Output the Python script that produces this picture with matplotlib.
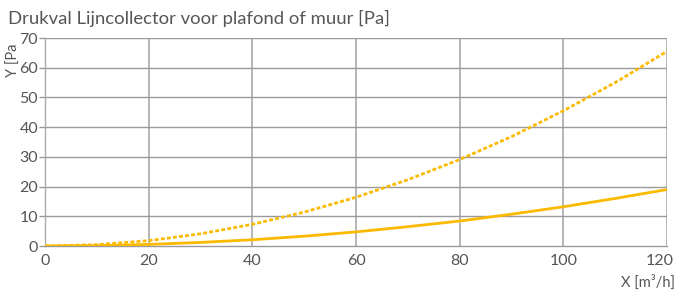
import matplotlib
matplotlib.use("Agg")
import matplotlib.pyplot as plt
from matplotlib.transforms import ScaledTranslation

x_vals = [0, 10, 20, 30, 40, 50, 60, 70, 80, 90, 100, 110, 120]
dashed_vals = [0, 0.45, 1.8, 4.1, 7.3, 11.4, 16.4, 22.3, 29.1, 36.8, 45.5, 55.0, 65.5]
solid_vals = [0, 0.13, 0.53, 1.2, 2.1, 3.3, 4.75, 6.5, 8.4, 10.7, 13.2, 16.0, 19.0]
x_ticks = [0, 20, 40, 60, 80, 100, 120]
y_ticks = [0, 10, 20, 30, 40, 50, 60, 70]

plt.rcParams['font.family'] = ['Lato', 'DejaVu Sans']
txt = '#555555'
col = '#FBBA00'

fig = plt.figure(figsize=(6.77, 2.93), dpi=100)
ax = fig.add_axes([45/677, 47/293, 622/677, 208/293])
ax.set_xlim(0, 120)
ax.set_ylim(0, 70)

for xt in x_ticks[1:]:
    ax.axvline(xt, color='#b0b0b0', lw=1.3, zorder=1)
for yt in y_ticks[1:]:
    ax.axhline(yt, color='#9a9a9a', lw=1.0, zorder=1)

ax.plot(x_vals, dashed_vals, color=col, lw=2.0, ls=(0, (1.4, 0.8)), zorder=3)
ax.plot(x_vals, solid_vals, color=col, lw=2.0, zorder=3)

for s in ['top', 'right']:
    ax.spines[s].set_visible(False)
ax.spines['left'].set_color('#aaaaaa')
ax.spines['bottom'].set_color('#999999')
ax.spines['left'].set_linewidth(1.0)
ax.spines['bottom'].set_linewidth(1.0)

ax.set_xticks(x_ticks)
ax.set_yticks(y_ticks)
ax.tick_params(axis='x', length=0, pad=6, labelsize=11.5, labelcolor=txt)
ax.tick_params(axis='y', length=4, width=1, color='#999999', pad=1, labelsize=11.5, labelcolor=txt)
last = ax.get_xticklabels()[-1]
last.set_transform(last.get_transform() + ScaledTranslation(-7/100, 0, fig.dpi_scale_trans))

fig.text(8/677, 1 - 18/293, 'Drukval Lijncollector voor plafond of muur [Pa]',
         fontsize=13.3, color=txt, va='center', ha='left')
fig.text(675/677, 1 - 282/293, 'X [m³/h]', fontsize=10.5, color=txt, ha='right', va='center')
fig.text(14/677, 1 - 60/293, 'Y [Pa', fontsize=10.5, color=txt, rotation=90, ha='center', va='center')

fig.savefig('out.png', dpi=100)
